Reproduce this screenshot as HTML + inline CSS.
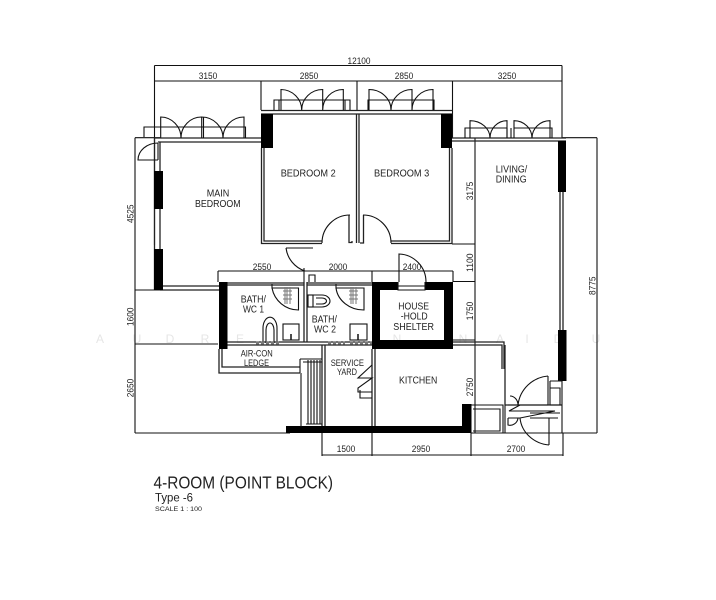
<!DOCTYPE html>
<html><head><meta charset="utf-8"><style>
html,body{margin:0;padding:0;background:#fff}
svg{display:block;filter:blur(0.35px)}
text{font-family:"Liberation Sans",sans-serif;fill:#222}
.d{font-size:9.5px;text-anchor:middle}
.r{font-size:10.5px;fill:#222}
.w{font-size:12px;fill:#e6e6e6;text-anchor:middle}
.l{fill:none;stroke:#111;stroke-width:1.1}
.t{fill:none;stroke:#222;stroke-width:1.3}
.a{fill:none;stroke:#111;stroke-width:1.1}
.k{fill:#000}
.g{stroke:#777;stroke-width:1;fill:none}
</style></head><body>
<svg width="716" height="600" viewBox="0 0 716 600" xmlns="http://www.w3.org/2000/svg">
<rect width="716" height="600" fill="#fff"/>
<!-- watermark -->
<g><text class="w" x="100" y="343">A</text><text class="w" x="137" y="343">U</text><text class="w" x="170" y="343">D</text><text class="w" x="205" y="343">R</text><text class="w" x="240" y="343">E</text><text class="w" x="397" y="343">N</text><text class="w" x="463" y="343">N</text><text class="w" x="500" y="343">A</text><text class="w" x="527" y="343">I</text><text class="w" x="558" y="343">D</text><text class="w" x="596" y="343">U</text></g>

<!-- dimension lines -->
<g class="l">
<path d="M154.5 65.5H562M154.5 81H562M154.5 65.5V245M261 81V110M357 81V110M452.5 81V138M562 65.5V138"/>
<path d="M135 137.7H160M135 137.7V433M135 290H218M135 344H218M135 433H290"/>
<path d="M218 271H453M218 271V282M304 268V282M372 271V282M453 271V282"/>
<path d="M475 138V433M452 244H475M453 281.5H475M453 340H475M475 433H597M562 137.7H597M597 137.7V433"/>
<path d="M322 433V456M372 433V456M471 433V456M563 433V456M322 455H563"/>
</g>
<g>
<text class="d" x="359" y="64" textLength="23" lengthAdjust="spacingAndGlyphs">12100</text>
<text class="d" x="208" y="79" textLength="18.5" lengthAdjust="spacingAndGlyphs">3150</text><text class="d" x="309" y="79" textLength="18.5" lengthAdjust="spacingAndGlyphs">2850</text><text class="d" x="404" y="79" textLength="18.5" lengthAdjust="spacingAndGlyphs">2850</text><text class="d" x="507" y="79" textLength="18.5" lengthAdjust="spacingAndGlyphs">3250</text>
<text class="d" x="262" y="270" textLength="18.5" lengthAdjust="spacingAndGlyphs">2550</text><text class="d" x="338" y="270" textLength="18.5" lengthAdjust="spacingAndGlyphs">2000</text><text class="d" x="412" y="270" textLength="18.5" lengthAdjust="spacingAndGlyphs">2400</text>
<text class="d" x="346" y="452" textLength="18.5" lengthAdjust="spacingAndGlyphs">1500</text><text class="d" x="421" y="452" textLength="18.5" lengthAdjust="spacingAndGlyphs">2950</text><text class="d" x="516" y="452" textLength="18.5" lengthAdjust="spacingAndGlyphs">2700</text>
<text class="d" transform="translate(133.5,213.7) rotate(-90)" textLength="18.5" lengthAdjust="spacingAndGlyphs">4525</text>
<text class="d" transform="translate(133.5,316.7) rotate(-90)" textLength="18.5" lengthAdjust="spacingAndGlyphs">1600</text>
<text class="d" transform="translate(133.5,388) rotate(-90)" textLength="18.5" lengthAdjust="spacingAndGlyphs">2650</text>
<text class="d" transform="translate(473,191) rotate(-90)" textLength="18.5" lengthAdjust="spacingAndGlyphs">3175</text>
<text class="d" transform="translate(473,262.7) rotate(-90)" textLength="18.5" lengthAdjust="spacingAndGlyphs">1100</text>
<text class="d" transform="translate(473,311) rotate(-90)" textLength="18.5" lengthAdjust="spacingAndGlyphs">1750</text>
<text class="d" transform="translate(473,387) rotate(-90)" textLength="18.5" lengthAdjust="spacingAndGlyphs">2750</text>
<text class="d" transform="translate(595.5,285.7) rotate(-90)" textLength="18.5" lengthAdjust="spacingAndGlyphs">8775</text>
</g>

<!-- walls -->
<g class="t">
<path d="M154 138H261M158 142H261M154.5 138V290M160 142V290M160 286H219M160 290H219"/>
<path d="M261 110.5H452.5M261 114H452.5"/>
<path d="M261.5 148V243.5H322M264 148V241H322"/>
<path d="M349 215V242.5H352V241"/>
<path d="M356.5 114V243M359 114V243"/>
<path d="M363.5 215V243H360"/>
<path d="M391 241H449.5V148M391 243.5H452V148"/>
<path d="M452 138H566M452 141H566"/>
<path d="M560 192V330M563 192V330"/>
<path d="M227 283H304M227 285H304M307 283H372M307 285H372"/>
<path d="M304 282V342M307 282V342"/>
<path d="M227 342H372M227 345H372"/>
<path d="M219 349V373H300M222 349V367H300"/>
<path d="M322 345V426M325 345V426"/>
<path d="M372 349V426M375 349V426"/>
<path d="M453 342H504V369M453 345H502V369M505 345V405M505 405H562"/>
</g>
<g class="k">
<rect x="154" y="171" width="9" height="38"/>
<rect x="154" y="249" width="9" height="41"/>
<rect x="261" y="114" width="12" height="34"/>
<rect x="441" y="114" width="11" height="34"/>
<rect x="558" y="141" width="8" height="51"/>
<rect x="558" y="330" width="8.5" height="51"/>
<rect x="219" y="282" width="8.5" height="67"/>
<rect x="286" y="426" width="185" height="7"/>
<rect x="462" y="404" width="9.5" height="29"/>
<path d="M372 282H453V349H372ZM380 290V340H444V290Z" fill-rule="evenodd"/>
<rect x="398" y="282" width="27" height="8" fill="#fff"/>
</g>
<path class="l" d="M398 282V290H425V282M398 286H425"/>

<!-- French doors top -->
<g class="a">
<path d="M160.7 138V117A20.5 21 0 0 1 181 138A20.5 21 0 0 1 201.7 117V138M201.7 117A21.5 21 0 0 1 223 138A21 21 0 0 1 244 117V138"/>
<path d="M144 137V127H245.5V138M203.5 117V138"/>
<path d="M281 110V89.5A21 20.5 0 0 1 301.7 110A21 20.5 0 0 1 322.7 89.5V110M322.7 89.5V110A20.5 20.5 0 0 1 343.3 89.5V110"/>
<path d="M274 110V100H350V110M279 100V110M345 100V110"/>
<path d="M369 110V89.5A22 20.5 0 0 1 391 110A21 20.5 0 0 1 412 89.5V110A21 20.5 0 0 1 433 89.5V110"/>
<path d="M368 110V100H434V110"/>
<path d="M470 138V120.7A20 17.3 0 0 1 490 138A17 17.3 0 0 1 507 120.7V138"/>
<path d="M514 138V120.7A18 17.3 0 0 1 532 138A18 17.3 0 0 1 550 120.7V138"/>
<path d="M465 138V128H507M514 128H552V138M507 128V138M511 128V138"/>
<!-- left window door -->
<path d="M158 143A20 17 0 0 0 138 160H158M158 143V160"/>
<!-- room doors -->
<path d="M322 243A28 28 0 0 1 350 215"/>
<path d="M363 215A28 28 0 0 1 391 243"/>
<path d="M286 248H313M286 248A28 28 0 0 0 305 271"/>
<path d="M399 282V254A28 28 0 0 1 426 282"/>
<!-- bath doors -->
<path d="M272 284V288H298.5V310A27 27 0 0 1 272 288"/>
<path d="M336 284V288H364V310A28 25 0 0 1 336 288"/>
<path d="M309 282V275H315V282"/>
<!-- toilets + basins -->
<path d="M263 343V328A6.5 10 0 0 1 277 328V343M266 343V330A4 7 0 0 1 274 330V343"/>
<rect x="283" y="324" width="16" height="16"/>
<rect x="350" y="324" width="17" height="16"/>
<rect x="308" y="295" width="5" height="12"/>
<path d="M313 295H322A8 6 0 0 1 322 307H313"/>
<path d="M316 298H322A4.5 3 0 0 1 322 304H316"/>
<path d="M291 340V334M358 340V334" stroke-width="1.5"/>
<!-- pipe / stair -->
<path d="M301 373V427M300 359H322M300 359V373M303 362H322"/>
<path d="M308 360V424M311 360V424M314 360V424M317 360V424M320 360V424M306 424H322"/>
<!-- service yard door -->
<path d="M372 365L358 378H372L358 388V392H372M360 390V398H372"/>
<!-- kitchen yard -->
<path d="M471 405H503V433H471M473 409H500V431H473M505 405V433"/>
<path d="M550 381H562M550 381V405M562 381V433M550 388H560V405H550"/>
<path d="M548 376A33 33 0 0 0 518 405H548M548 376V405"/>
<path d="M508 405H520L509 411L555 411L520 418H508M510 396A8 9 0 0 1 518 405M508 418V425A8 8 0 0 0 518 418"/>
<path d="M549 445A32 30 0 0 1 520 418M549 418V445M549 433H505"/>
<path d="M530 413H560M530 418H558"/>
</g>
<g class="g">
<path d="M285 287V304M287 287V304M290 287V304M351 287V304M353 287V304M356 287V304"/>
<path d="M283 291H292M283 295H292M283 299H292M349 291H358M349 295H358M349 299H358"/>
<path d="M256 343H280M328 343H345M350 343H372" stroke-width="3" stroke-dasharray="3 2"/>
</g>

<!-- labels -->
<g>
<text class="r" x="206.7" y="196.7" textLength="22.6" lengthAdjust="spacingAndGlyphs">MAIN</text>
<text class="r" x="195" y="207" textLength="45.6" lengthAdjust="spacingAndGlyphs">BEDROOM</text>
<text class="r" x="280.7" y="176.7" textLength="55" lengthAdjust="spacingAndGlyphs">BEDROOM 2</text>
<text class="r" x="374" y="176.7" textLength="55.3" lengthAdjust="spacingAndGlyphs">BEDROOM 3</text>
<text class="r" x="495.7" y="172.3" textLength="31.6" lengthAdjust="spacingAndGlyphs">LIVING/</text>
<text class="r" x="495.7" y="182.7" textLength="31" lengthAdjust="spacingAndGlyphs">DINING</text>
<text class="r" x="240.7" y="302.7" textLength="25.3" lengthAdjust="spacingAndGlyphs">BATH/</text>
<text class="r" x="243" y="312.7" textLength="21" lengthAdjust="spacingAndGlyphs">WC 1</text>
<text class="r" x="311.7" y="322.3" textLength="25.3" lengthAdjust="spacingAndGlyphs">BATH/</text>
<text class="r" x="314" y="332.7" textLength="22" lengthAdjust="spacingAndGlyphs">WC 2</text>
<text class="r" x="240.7" y="356.7" textLength="32" lengthAdjust="spacingAndGlyphs" style="font-size:9.5px">AIR-CON</text>
<text class="r" x="244" y="366" textLength="25" lengthAdjust="spacingAndGlyphs" style="font-size:9.5px">LEDGE</text>
<text class="r" x="330.7" y="366" textLength="33.3" lengthAdjust="spacingAndGlyphs" style="font-size:9.5px">SERVICE</text>
<text class="r" x="337" y="375" textLength="20" lengthAdjust="spacingAndGlyphs" style="font-size:9.5px">YARD</text>
<text class="r" x="398.3" y="309.3" textLength="30.7" lengthAdjust="spacingAndGlyphs">HOUSE</text>
<text class="r" x="400.7" y="319.3" textLength="27" lengthAdjust="spacingAndGlyphs">-HOLD</text>
<text class="r" x="393.3" y="330" textLength="40.7" lengthAdjust="spacingAndGlyphs">SHELTER</text>
<text class="r" x="399" y="383.3" textLength="38.3" lengthAdjust="spacingAndGlyphs">KITCHEN</text>
</g>
<text x="153.5" y="488.5" font-size="17.5" textLength="179.5" lengthAdjust="spacingAndGlyphs">4-ROOM (POINT BLOCK)</text>
<text x="155" y="501.5" font-size="12" textLength="38" lengthAdjust="spacingAndGlyphs">Type -6</text>
<text x="155" y="511" font-size="6" textLength="47" lengthAdjust="spacingAndGlyphs">SCALE 1 : 100</text>
</svg>
</body></html>
